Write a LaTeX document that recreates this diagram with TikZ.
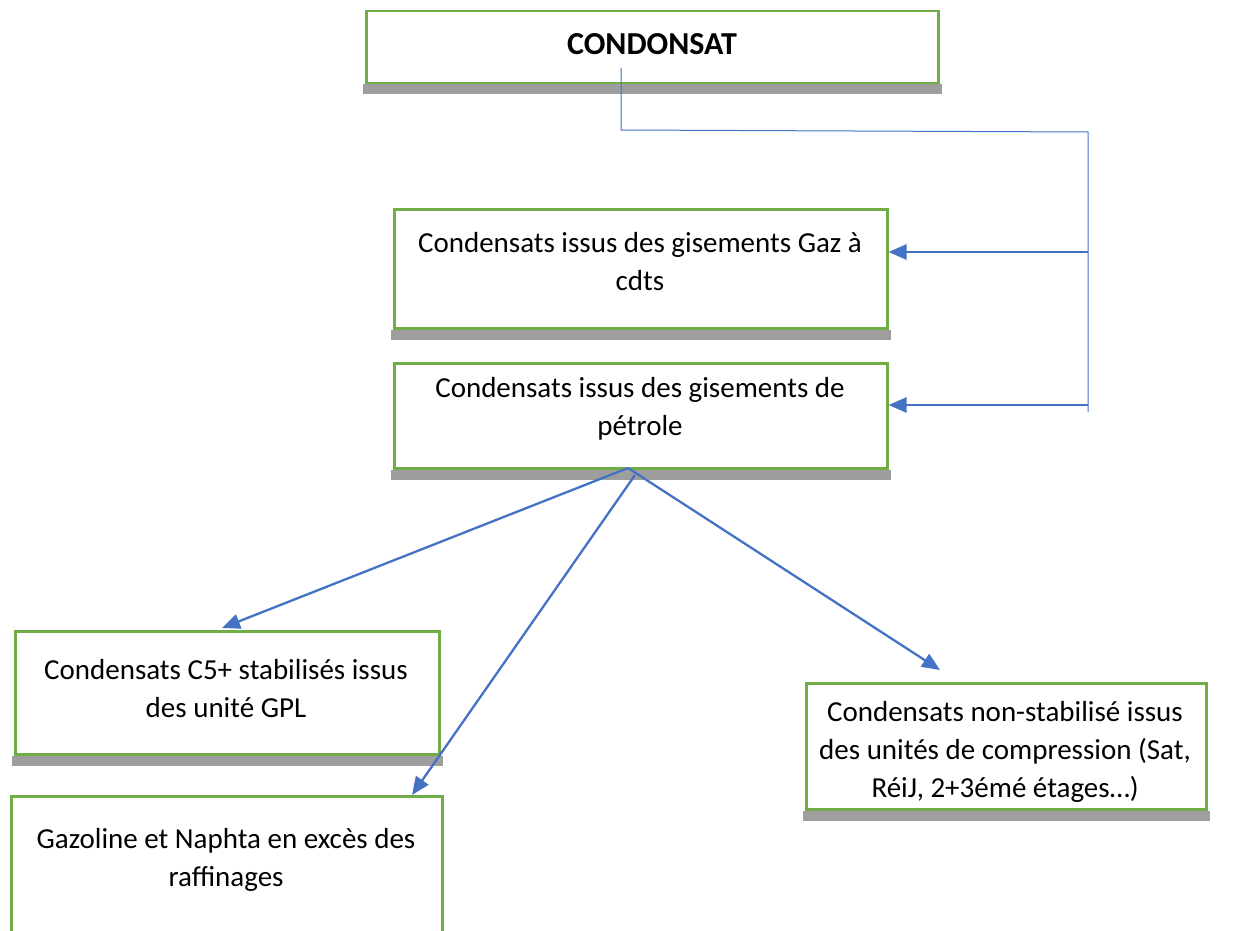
\documentclass[tikz,border=0pt]{standalone}
\usepackage{fontspec}
\setmainfont{Carlito}
\usetikzlibrary{arrows.meta,backgrounds}
\definecolor{boxgreen}{HTML}{70AD47}
\definecolor{lineblue}{HTML}{4472C4}
\definecolor{shadowgray}{HTML}{9E9E9E}
\tikzset{
  box/.style={draw=boxgreen, line width=2.5pt, fill=white, rectangle, inner sep=0pt, anchor=north west},
  txt/.style={align=center, inner sep=0pt, font=\fontsize{29pt}{38pt}\selectfont},
  ttl/.style={align=center, inner sep=0pt, font=\fontsize{32pt}{38pt}\selectfont\bfseries},
  shad/.style={fill=shadowgray, draw=none},
  thinline/.style={draw=lineblue, line width=1pt},
  arr/.style={draw=lineblue, line width=2.4pt, -{Triangle[length=18pt,width=15pt]}},
  diag/.style={draw=lineblue, line width=2.3pt, -{Triangle[length=18pt,width=15pt]}}
}
\begin{document}
\begin{tikzpicture}[x=1pt,y=-1pt]
\useasboundingbox (0,0) rectangle (1236,931);
\clip (0,0) rectangle (1236,931);
% boxes
\node[box, minimum width=572pt, minimum height=72pt] (b1) at (365,10) {};
\node[box, minimum width=493pt, minimum height=119pt] (b2) at (393,208) {};
\node[box, minimum width=493pt, minimum height=105pt] (b3) at (393,362) {};
\node[box, minimum width=424pt, minimum height=123pt] (b4) at (14,630) {};
\node[box, minimum width=431pt, minimum height=160pt] (b5) at (10,795) {};
\node[box, minimum width=400pt, minimum height=126pt] (b6) at (805,682) {};
% shadows
\begin{scope}[on background layer]
\foreach \b in {b1,b2,b3,b4,b6}{
  \fill[shad] ([xshift=-2pt]\b.south west) rectangle ([xshift=2pt,yshift=-10pt]\b.south east);
}
\end{scope}
% texts
\node[ttl] (t1) at (652,44) {CONDONSAT};
\node[txt] (t2) at (640,262) {Condensats issus des gisements Gaz à\\cdts};
\node[txt] (t3) at (640,409) {Condensats issus des gisements de\\pétrole};
\node[txt] (t4) at (226,689) {Condensats C5+ stabilisés issus\\des unité GPL};
\node[txt] (t5) at (226,860) {Gazoline et Naphta en excès des\\raffinages};
\node[txt] (t6) at (1005,752) {Condensats non-stabilisé issus\\des unités de compression (Sat,\\RéiJ, 2+3émé étages…)};
% connectors from the title box
\coordinate (c0) at (621,68);
\coordinate (c1) at (621,130);
\coordinate (c2) at (1088,132);
\coordinate (c3) at (1088,412);
\coordinate (a2) at (1088,252);
\coordinate (a3) at (1088,405);
\draw[thinline] (c0) -- (c1) -- (c2) -- (c3);
\draw[arr] (a2) -- (a2 -| b2.east);
\draw[arr] (a3) -- (a3 -| b3.east);
% diagonals from the second box
\coordinate (p0) at (628,468);
\coordinate (p1) at (635,475);
\coordinate (q4) at (222,628);
\coordinate (q5) at (412,795);
\coordinate (q6) at (940,670);
\draw[diag] (p0) -- (q4);
\draw[diag] (p1) -- (q5);
\draw[diag] (p0) -- (q6);
\end{tikzpicture}
\end{document}
